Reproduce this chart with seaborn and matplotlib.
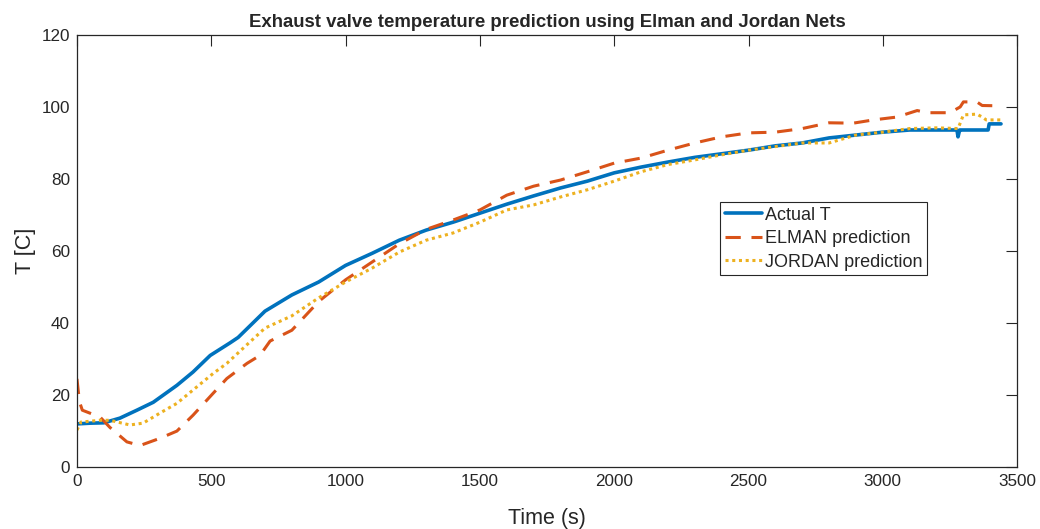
"""
Exhaust valve temperature: actual vs Elman / Jordan net predictions
redrawn from the reference picture
"""

import matplotlib
matplotlib.use("Agg")
import matplotlib.pyplot as plt
import seaborn as sns

# values
actual_t = [0, 50, 100, 123, 160, 223, 284, 372, 432, 496, 570, 600, 700,
            800, 900, 1000, 1100, 1200, 1300, 1400, 1500, 1600, 1700, 1800,
            1900, 2000, 2100, 2200, 2300, 2400, 2500, 2600, 2700, 2800,
            2900, 3000, 3100, 3200, 3276, 3280, 3286, 3290, 3392, 3396, 3440]
actual_y = [12.0, 12.2, 12.3, 12.8, 13.6, 15.8, 18.0, 22.7, 26.4, 31.0,
            34.5, 36.0, 43.3, 47.8, 51.4, 56.0, 59.4, 63.0, 65.8, 68.0, 70.5,
            73.0, 75.3, 77.5, 79.4, 81.7, 83.3, 84.7, 86.0, 87.0, 88.0, 89.2,
            90.0, 91.4, 92.2, 93.0, 93.6, 93.6, 93.6, 91.7, 93.6, 93.6, 93.6,
            95.3, 95.3]

elman_t = [0, 5, 10, 20, 86, 123, 186, 235, 309, 372, 432, 507, 558, 633,
           681, 719, 800, 900, 1000, 1100, 1200, 1300, 1400, 1500, 1600,
           1700, 1800, 1900, 2000, 2100, 2200, 2300, 2400, 2500, 2600, 2700,
           2800, 2890, 2965, 3053, 3128, 3165, 3250, 3288, 3300, 3350, 3370,
           3440]
elman_y = [24.5, 21.0, 18.0, 15.8, 13.9, 11.0, 7.0, 6.0, 8.0, 10.0, 14.4,
           20.5, 24.6, 28.8, 31.0, 35.0, 38.0, 46.0, 52.0, 57.0, 62.0, 66.0,
           68.6, 71.4, 75.5, 78.0, 79.7, 82.0, 84.4, 85.8, 88.0, 90.0, 91.7,
           92.8, 93.0, 94.0, 95.6, 95.5, 96.4, 97.2, 99.0, 98.4, 98.4, 100.0,
           101.4, 101.4, 100.4, 100.3]

jordan_t = [0, 15, 86, 123, 197, 246, 309, 372, 432, 507, 558, 633, 700,
            800, 900, 1000, 1100, 1200, 1300, 1400, 1500, 1600, 1700, 1800,
            1900, 2000, 2100, 2200, 2300, 2400, 2500, 2600, 2700, 2800, 2900,
            3000, 3100, 3200, 3280, 3288, 3300, 3350, 3370, 3385, 3440]
jordan_y = [10.3, 12.5, 13.0, 13.0, 11.7, 12.2, 15.0, 17.7, 21.4, 26.0,
            28.8, 34.0, 38.6, 42.0, 47.0, 51.4, 55.3, 59.7, 63.0, 65.0, 68.0,
            71.4, 72.8, 75.0, 77.0, 79.4, 82.0, 84.0, 85.3, 86.7, 88.0, 89.0,
            90.0, 90.0, 92.2, 93.0, 94.0, 94.2, 94.0, 95.5, 97.8, 98.0, 97.2,
            96.4, 96.4]

x_ticks = [0, 500, 1000, 1500, 2000, 2500, 3000, 3500]
y_ticks = [0, 20, 40, 60, 80, 100, 120]

sns.set_style("white")
plt.rcParams["font.family"] = ["Liberation Sans", "DejaVu Sans"]
plt.rcParams["xtick.direction"] = "in"
plt.rcParams["ytick.direction"] = "in"

fig = plt.figure(figsize=(10.4, 5.29), dpi=100)
ax = fig.add_axes([0.074, 0.117, 0.904, 0.817])

sns.lineplot(x=actual_t, y=actual_y, ax=ax, color="#0072BD", linewidth=2.6,
             label="Actual T")
sns.lineplot(x=elman_t, y=elman_y, ax=ax, color="#D95319", linewidth=2.2,
             label="ELMAN prediction")
sns.lineplot(x=jordan_t, y=jordan_y, ax=ax, color="#EDB120", linewidth=2.2,
             label="JORDAN prediction")
ax.lines[1].set_dashes([5, 3.5])
ax.lines[2].set_linestyle((0, (1, 1.2)))

ax.set_xlim(0, 3500)
ax.set_ylim(0, 120)
ax.set_xticks(x_ticks)
ax.set_yticks(y_ticks)
ax.tick_params(axis="both", labelsize=12.3, colors="#262626", length=8,
               width=0.8, top=True, right=True, pad=5)
for sp in ax.spines.values():
    sp.set_visible(True)
    sp.set_color("#262626")
    sp.set_linewidth(0.9)

ax.set_xlabel("Time (s)", fontsize=15.5, color="#262626", labelpad=14)
ax.set_ylabel("T [C]", fontsize=15.5, color="#262626", labelpad=4)
ax.set_title("Exhaust valve temperature prediction using Elman and Jordan Nets",
             fontsize=13.4, fontweight="bold", pad=6)

leg = ax.legend(loc="upper left", bbox_to_anchor=(0.684, 0.613),
                borderaxespad=0, fontsize=13, fancybox=False,
                framealpha=1, edgecolor="#262626", handlelength=2.1,
                handletextpad=0.15, labelspacing=0.36, borderpad=0.25)
leg.get_frame().set_linewidth(0.8)

plt.savefig("out.png", dpi=100)
